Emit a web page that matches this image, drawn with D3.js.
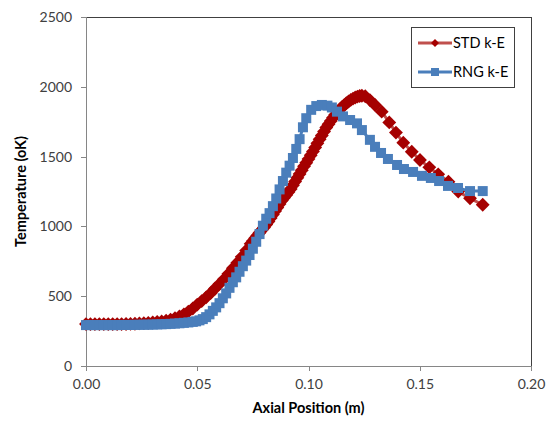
<!DOCTYPE html>
<html><head><meta charset="utf-8">
<script src="https://cdn.jsdelivr.net/npm/d3@7"></script>
<style>body{margin:0;background:#fff}svg{display:block}text{font-family:Lato,"Open Sans",sans-serif}</style>
</head><body><svg id="c" width="552" height="421"></svg>
<script>
// ---- data ----
const stdX = [0.000,0.002,0.004,0.006,0.008,0.010,0.012,0.014,0.016,0.018,0.020,0.022,0.024,0.026,0.028,0.030,0.032,0.034,0.036,0.038,0.040,0.042,0.044,0.046,0.048,0.050,0.052,0.054,0.056,0.058,0.060,0.062,0.064,0.066,0.068,0.070,0.072,0.074,0.075,0.076,0.077,0.078,0.079,0.080,0.081,0.082,0.083,0.084,0.085,0.086,0.087,0.088,0.089,0.090,0.091,0.092,0.093,0.094,0.095,0.096,0.097,0.098,0.099,0.100,0.101,0.102,0.103,0.104,0.105,0.106,0.107,0.108,0.109,0.110,0.111,0.112,0.113,0.114,0.115,0.116,0.117,0.118,0.119,0.120,0.121,0.122,0.123,0.124,0.1255,0.1276,0.1299,0.1329,0.1363,0.1393,0.1426,0.1464,0.1501,0.1543,0.1583,0.1629,0.1673,0.1726,0.1783];
const stdT = [300,300,300,300,300,300,300,300,300,301,302,303,305,307,309,312,315,319,325,332,342,355,370,390,412,440,465,492,522,555,588,622,660,700,740,782,828,875,895,915,935,955,974,993,1013,1035,1060,1085,1110,1135,1160,1185,1205,1225,1246,1268,1295,1322,1348,1375,1402,1430,1456,1482,1510,1537,1566,1595,1624,1652,1680,1708,1732,1755,1778,1800,1820,1838,1854,1868,1882,1895,1906,1915,1923,1930,1934,1936,1932,1905,1870,1822,1745,1672,1600,1535,1476,1423,1373,1320,1250,1201,1155];
const rngX = [0.000,0.002,0.004,0.006,0.008,0.010,0.012,0.014,0.016,0.018,0.020,0.022,0.024,0.026,0.028,0.030,0.032,0.034,0.036,0.038,0.040,0.042,0.044,0.046,0.048,0.0495,0.051,0.0525,0.054,0.0555,0.057,0.0585,0.060,0.0615,0.063,0.0645,0.066,0.0675,0.069,0.0705,0.072,0.0735,0.075,0.0765,0.078,0.0795,0.081,0.0825,0.084,0.0855,0.087,0.0885,0.090,0.0915,0.093,0.0945,0.096,0.0975,0.099,0.1012,0.1035,0.106,0.1085,0.1105,0.1128,0.1155,0.1187,0.1218,0.124,0.1276,0.1299,0.1326,0.1357,0.1398,0.1429,0.147,0.151,0.155,0.1587,0.1627,0.1672,0.1726,0.1783];
const rngT = [293,293,293,293,293,293,293,293,294,294,294,295,295,296,296,297,298,299,300,302,304,306,309,312,316,320,327,336,350,370,395,420,450,485,520,560,600,635,675,715,755,795,840,890,945,1005,1055,1095,1145,1200,1265,1325,1385,1435,1490,1555,1625,1710,1775,1835,1862,1870,1865,1852,1822,1788,1762,1738,1690,1620,1570,1526,1483,1440,1411,1390,1362,1347,1325,1290,1275,1253,1253];
const xTicks = [0,0.05,0.10,0.15,0.20];
const yTicks = [0,500,1000,1500,2000,2500];
const seriesNames = ["STD k-E","RNG k-E"];

// ---- chart ----
const svg = d3.select("#c");
const L=86,R=531,T=17,B=366;
const x = d3.scaleLinear().domain([0,0.2]).range([L,R]);
const y = d3.scaleLinear().domain([0,2500]).range([B,T]);
const red="#A50000", redLine="#C0504D", blue="#4A7EBB";

svg.append("path").attr("d",`M${L},${T}H${R}V${B}`).attr("fill","none").attr("stroke","#404040").attr("stroke-width",1).attr("shape-rendering","crispEdges");

const xa = svg.append("g").attr("transform",`translate(0,${B})`)
  .call(d3.axisBottom(x).tickValues(xTicks).tickFormat(d3.format(".2f")).tickSizeOuter(0).tickSize(5).tickPadding(8));
const ya = svg.append("g").attr("transform",`translate(${L},0)`)
  .call(d3.axisLeft(y).tickValues(yTicks).tickFormat(d3.format("d")).tickSizeOuter(0).tickSize(5).tickPadding(9));
[xa,ya].forEach(a=>{
  a.select(".domain").attr("stroke","#868686").attr("shape-rendering","crispEdges");
  a.selectAll(".tick line").attr("stroke","#868686").attr("shape-rendering","crispEdges");
  a.selectAll("text").attr("fill","#404040").style("font-size","14px");
});

const stdData = stdX.map((v,i)=>[v,stdT[i]]);
const rngData = rngX.map((v,i)=>[v,rngT[i]]);
const line = d3.line().x(d=>x(d[0])).y(d=>y(d[1]));

svg.append("path").datum(stdData).attr("d",line).attr("fill","none").attr("stroke",redLine).attr("stroke-width",3);
const diamond = d3.symbol().type(d3.symbolSquare).size(96);
svg.append("g").selectAll("path").data(stdData).join("path")
  .attr("d",diamond).attr("transform",d=>`translate(${x(d[0])},${y(d[1])}) rotate(45)`)
  .attr("fill",red);

svg.append("path").datum(rngData).attr("d",line).attr("fill","none").attr("stroke",blue).attr("stroke-width",3);
svg.append("g").selectAll("rect").data(rngData).join("rect")
  .attr("x",d=>x(d[0])-5).attr("y",d=>y(d[1])-5).attr("width",10).attr("height",10)
  .attr("fill",blue);

svg.append("text").attr("x",(L+R)/2).attr("y",413).attr("text-anchor","middle")
  .attr("font-weight","bold").style("font-size","14.5px").attr("fill","#000").text("Axial Position (m)");
svg.append("text").attr("transform",`translate(26,${(T+B)/2}) rotate(-90)`).attr("text-anchor","middle")
  .attr("font-weight","bold").style("font-size","14.5px").attr("fill","#000").text("Temperature (oK)");

const lg = svg.append("g");
lg.append("rect").attr("x",411.5).attr("y",27.5).attr("width",103).attr("height",60)
  .attr("fill","#fff").attr("stroke","#404040").attr("stroke-width",1);
const legY=[43,72];
seriesNames.forEach((n,i)=>{
  const c = i===0?redLine:blue;
  lg.append("line").attr("x1",418).attr("x2",452).attr("y1",legY[i]).attr("y2",legY[i]).attr("stroke",c).attr("stroke-width",3);
  if(i===0){
    lg.append("path").attr("d",d3.symbol().type(d3.symbolSquare).size(32)).attr("transform",`translate(435,${legY[i]}) rotate(45)`).attr("fill",red);
  } else {
    lg.append("rect").attr("x",431).attr("y",legY[i]-4).attr("width",8).attr("height",8).attr("fill",blue);
  }
  lg.append("text").attr("x",453).attr("y",legY[i]).attr("dy","0.35em").style("font-size","14.5px").attr("fill","#000").text(n);
});
</script></body></html>
